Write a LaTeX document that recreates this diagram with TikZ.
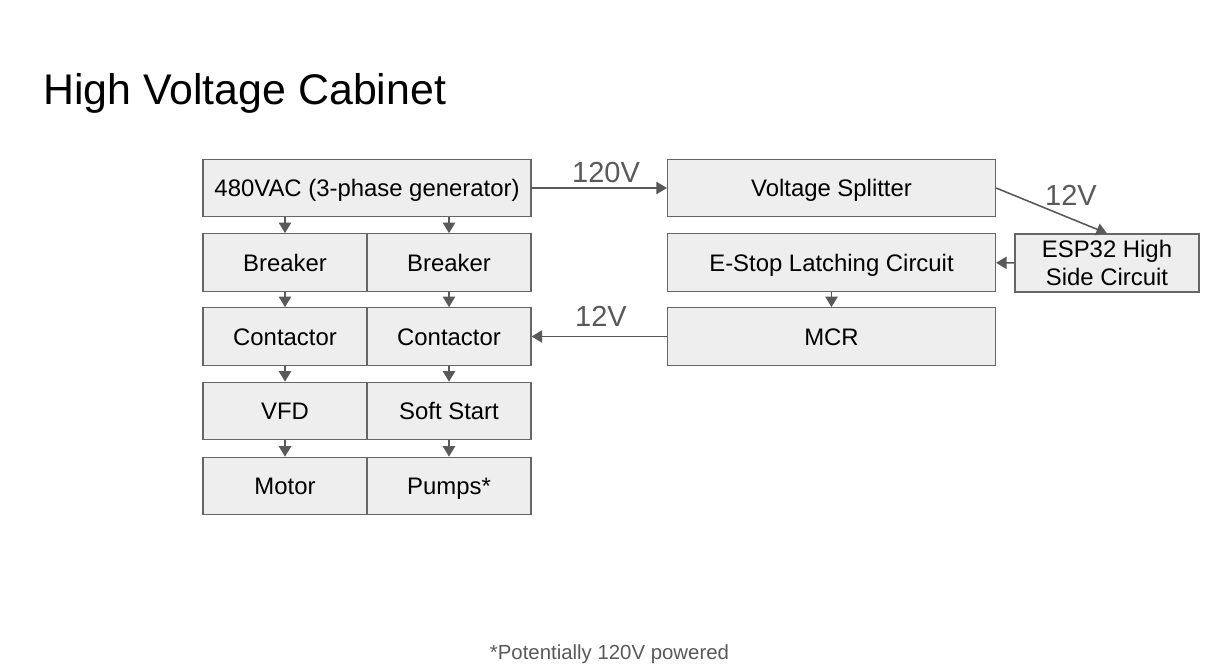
\documentclass[tikz,border=0pt]{standalone}
\usepackage{fontspec}
\setmainfont{Liberation Sans}
\usetikzlibrary{arrows.meta}
\definecolor{boxfill}{HTML}{EEEEEE}
\definecolor{boxline}{HTML}{666666}
\definecolor{arrowgray}{HTML}{595959}
\begin{document}
\begin{tikzpicture}[x=0.02cm,y=-0.02cm,
  box/.style={draw=boxline,fill=boxfill,line width=0.7pt,inner sep=0pt,
    align=center,font=\fontsize{13.6}{16}\selectfont},
  half/.style={box,minimum width=3.28cm,minimum height=1.15cm,text height=9.8pt,text depth=0pt},
  wide/.style={box,minimum width=6.56cm,minimum height=1.15cm,text height=9.8pt,text depth=0pt},
  flow/.style={draw=arrowgray,line width=0.9pt,-{Triangle[length=6pt,width=7pt]}},
  volt/.style={text=arrowgray,font=\fontsize{16.5}{18}\selectfont,inner sep=0pt}]
\useasboundingbox (0,0) rectangle (1206,672);

% title
\node[anchor=base west,inner sep=0pt,font=\fontsize{24.4}{28}\selectfont] (title) at (43,105) {High Voltage Cabinet};

% left column
\node[wide] (gen) at (367,188) {480VAC (3-phase generator)};
\node[half] (brkA) at (285,262.5) {Breaker};
\node[half] (brkB) at (449,262.5) {Breaker};
\node[half] (conA) at (285,336.5) {Contactor};
\node[half] (conB) at (449,336.5) {Contactor};
\node[half] (vfd) at (285,411) {VFD};
\node[half] (soft) at (449,411) {Soft Start};
\node[half] (motor) at (285,486) {Motor};
\node[half] (pumps) at (449,486) {Pumps*};

% right column
\node[wide] (split) at (831.5,188) {Voltage Splitter};
\node[wide] (estop) at (831.5,262.5) {E-Stop Latching Circuit};
\node[wide] (mcr) at (831.5,336.5) {MCR};
\node[box,minimum width=3.68cm,minimum height=1.16cm] (esp) at (1107,263) {ESP32 High\\Side Circuit};

% down arrows
\draw[flow] (gen.south -| brkA) -- (brkA);
\draw[flow] (gen.south -| brkB) -- (brkB);
\draw[flow] (brkA) -- (conA);
\draw[flow] (brkB) -- (conB);
\draw[flow] (conA) -- (vfd);
\draw[flow] (conB) -- (soft);
\draw[flow] (vfd) -- (motor);
\draw[flow] (soft) -- (pumps);
\draw[flow] (estop) -- (mcr);

% supply lines
\draw[flow] (gen) -- (split);
\node[volt] (v120) at (606,173) {120V};
\draw[flow] (split.east) -- (esp.north);
\node[volt] (v12a) at (1071,195) {12V};
\draw[flow] (esp) -- (estop);
\draw[flow] (mcr) -- (conB);
\node[volt] (v12b) at (601,316) {12V};

% footnote
\node[text=arrowgray,font=\fontsize{11.6}{13}\selectfont,inner sep=0pt] (note) at (609.5,654) {*Potentially 120V powered};
\end{tikzpicture}
\end{document}
